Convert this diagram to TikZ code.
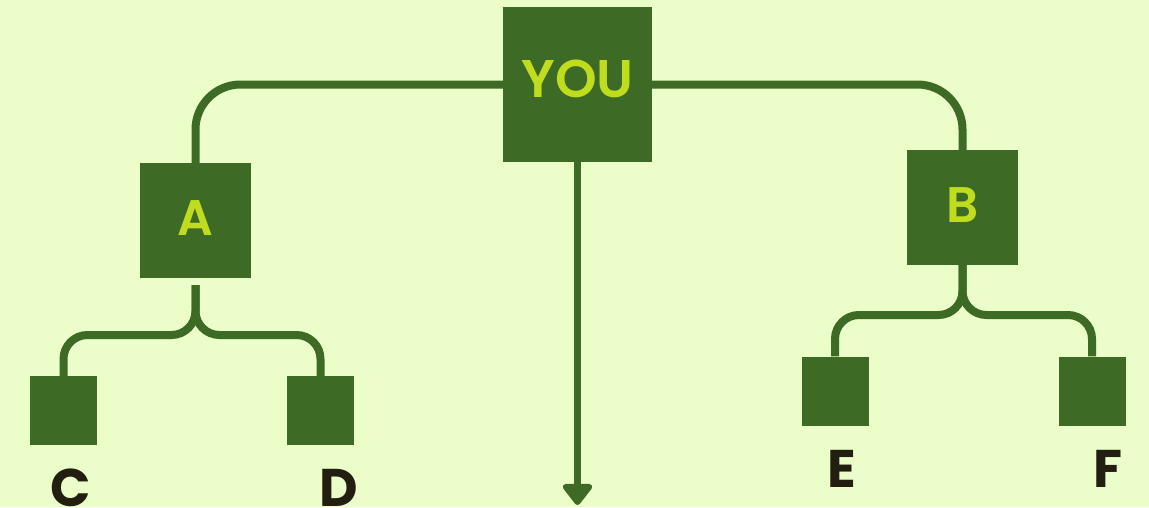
\documentclass[tikz,border=0pt]{standalone}
\usepackage{fontspec}
\setmainfont{Poppins}[BoldFont={Poppins SemiBold}]
\newfontfamily\tagfont{Poppins Bold}
\usepackage{tikz}
\usetikzlibrary{arrows.meta}
\definecolor{bgcol}{HTML}{EBFDC8}
\definecolor{leaf}{HTML}{3D6A25}
\definecolor{lime}{HTML}{BFDC1E}
\definecolor{ink}{HTML}{221E10}

\begin{document}
\begin{tikzpicture}[x=1pt,y=-1pt,
	box/.style={fill=leaf,draw=none,inner sep=0,text depth=5pt,font=\fontsize{50}{50}\selectfont\bfseries,text=lime},
	leafbox/.style={fill=leaf,draw=none,inner sep=0,minimum width=67,minimum height=69},
	tag/.style={anchor=base,inner sep=0,text=ink,font=\fontsize{53}{53}\selectfont\tagfont},
	link/.style={draw=leaf,line width=8}]
			\fill[bgcol] (0,0) rectangle (1149,507);
			\useasboundingbox (0,0) rectangle (1149,507);
			\node[box,minimum width=149,minimum height=155,text depth=12pt,font=\fontsize{53}{53}\selectfont\bfseries] (you) at (577.5,84.5) {YOU};
			\node[box,minimum width=111,minimum height=115] (a) at (195.5,220.5) {A};
			\node[box,minimum width=111,minimum height=115] (b) at (962.5,207.5) {B};
			\node[leafbox] (c) at (63.5,410.5) {};
			\node[leafbox] (d) at (320.5,410.5) {};
			\node[leafbox] (e) at (835,391) {};
			\node[leafbox] (f) at (1092,391) {};
			\node[tag] (clab) at (71,506) {C};
			\node[tag] (dlab) at (339,506) {D};
			\node[tag] (elab) at (842,487) {E};
			\node[tag] (flab) at (1108,487) {F};
			% top branches
			\draw[link,rounded corners=45] (you.west) -| (a.north);
			\draw[link,rounded corners=45] (you.east) -| (b.north);
			% splits below A and B
			\coordinate (asplit) at ([yshift=-7pt]a.south);
			\coordinate (bsplit) at (b.south);
			\draw[link,rounded corners=24] (asplit) -- (asplit |- 0,335) -| (c.north);
			\draw[link,rounded corners=24] (asplit) -- (asplit |- 0,335) -| (d.north);
			\draw[link,rounded corners=24] (bsplit) -- (bsplit |- 0,315) -| (e.north);
			\draw[link,rounded corners=24] (bsplit) -- (bsplit |- 0,315) -| (f.north);
			% arrow down
			\coordinate (down) at (you.south |- 0,505);
			\draw[draw=leaf,line width=7,-{Triangle[width=34pt,length=23pt,round]}] (you.south) -- (down);
\end{tikzpicture}
\end{document}
